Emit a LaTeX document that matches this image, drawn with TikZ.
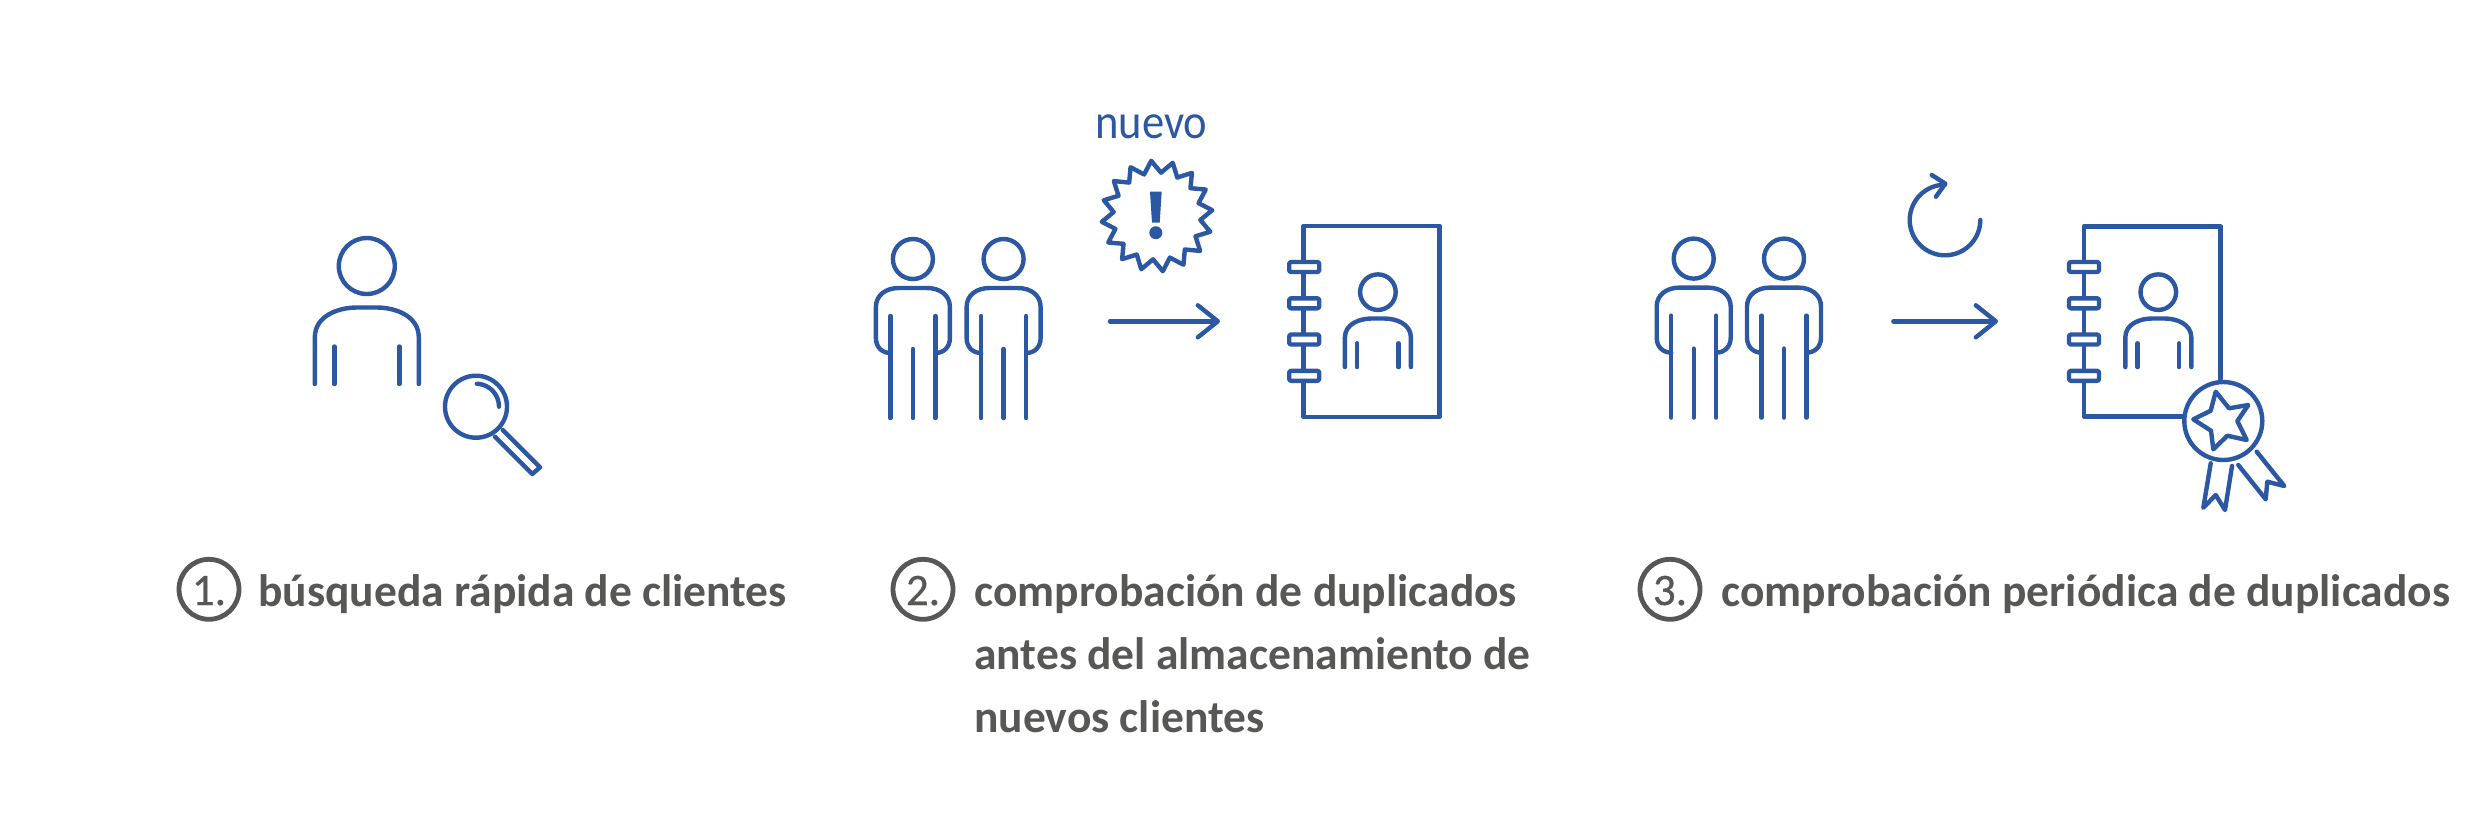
\documentclass[tikz,border=0pt]{standalone}
\usepackage{fontspec}
\usetikzlibrary{arrows.meta}
\setmainfont{Carlito}
\newfontfamily\lblfont{Carlito}
\newfontfamily\numfont[FakeBold=0.6]{Carlito}
\newfontfamily\nuevofont[FakeStretch=0.91]{Carlito}
\definecolor{iconblue}{HTML}{2B57A3}
\definecolor{labelgrey}{HTML}{575756}
\tikzset{
  icon/.style={draw=iconblue,line width=2.2pt,line cap=round,line join=round},
  flow/.style={icon,-{Straight Barb[length=10pt,width=16pt,round]}},
  numring/.style={draw=labelgrey,line width=2.4pt},
  numtext/.style={text=labelgrey,font=\numfont\fontsize{22.5}{22.5}\selectfont,inner sep=0pt,anchor=base},
  lbl/.style={text=labelgrey,font=\lblfont\bfseries\fontsize{22.75}{31.5}\selectfont,inner sep=0pt,anchor=base west,align=left},
  standing/.pic={
    \draw[icon] (0,-29) circle[radius=20];
    \draw[icon] (-22.5,65) .. controls (-31,65) and (-37,59) .. (-37,50) -- (-37,19)
      .. controls (-37,7) and (-27,0) .. (-14,0) -- (14,0)
      .. controls (27,0) and (37,7) .. (37,19) -- (37,50)
      .. controls (37,59) and (31,65) .. (22.5,65);
    \draw[icon] (-22.5,28) -- (-22.5,130);
    \draw[icon] (22.5,28) -- (22.5,130);
    \draw[icon] (0,61) -- (0,130);
  },
  bust/.pic={
    \draw[icon] (0,-41.5) circle[radius=28];
    \draw[icon] (-52,76.5) -- (-52,30) .. controls (-52,8) and (-28,0) .. (-10,0) -- (10,0)
      .. controls (28,0) and (52,8) .. (52,30) -- (52,76.5);
    \draw[icon] (-32.5,39) -- (-32.5,76.5);
    \draw[icon] (32.5,39) -- (32.5,76.5);
  },
  rings/.pic={
    \foreach \ry in {267,303.3,339.5,375.8}
      \draw[icon,fill=white,rounded corners=1pt] (-15,\ry-5) rectangle (15,\ry+5);
  }
}
\begin{document}
\begin{tikzpicture}[x=0.5pt,y=-0.5pt]
\useasboundingbox[fill=white] (0,0) rectangle (2480,827);

% --- group 1
\pic at (366.8,307.5) {bust};
\draw[icon] (476,406.7) circle[radius=31];
\draw[icon] plot[domain=-88:0,samples=12,variable=\t] ({476+23*cos(\t)},{406.7+23*sin(\t)});
\draw[icon] (502.7,430) -- (540,467.3) -- (532.3,474) -- (495,436.7);

% --- group 2
\pic at (912.9,288) {standing};
\pic at (1003.6,288) {standing};
\coordinate (a2s) at (1110,321.3);
\coordinate (a2e) at (1220,321.3);
\draw[flow] (a2s) -- (a2e);
\draw[icon] plot[samples at={0,...,31},variable=\k] ({1157+(49.5+6*cos(180*\k))*cos(96-11.25*\k)},{216-(49.5+6*cos(180*\k))*sin(96-11.25*\k)}) -- cycle;
\fill[iconblue] (1150,191.7) -- (1161.7,191.7) -- (1159.7,222.7) -- (1152,222.7) -- cycle;
\fill[iconblue] (1155.8,232.7) circle[radius=6.5];
\node[text=iconblue,font=\nuevofont\fontsize{24.5}{24.5}\selectfont,inner sep=0pt,anchor=base west] (nuevo) at (1095,138.3) {nuevo};
\draw[icon] (1303.5,225.7) rectangle (1439.6,416.7);
\pic at (1304.2,0) {rings};
\pic[xscale=.635,yscale=.635] at (1377.9,318.5) {bust};

% --- group 3
\pic at (1693.7,287.6) {standing};
\pic at (1784,287.6) {standing};
\coordinate (a3s) at (1893.4,321.3);
\coordinate (a3e) at (1998,321.3);
\draw[flow] (a3s) -- (a3e);
\draw[icon] plot[domain=0:270,samples=50,variable=\t] ({1945+35.3*cos(\t)},{220+35.3*sin(\t)});
\draw[icon] (1931.7,175) -- (1945.3,183.6) -- (1935.9,196.7);
\draw[icon] (2220.3,379) -- (2220.3,226.3) -- (2083.8,226.3) -- (2083.8,416.5) -- (2183,416.5);
\pic at (2084,0) {rings};
\pic[xscale=.635,yscale=.635] at (2158.3,318.5) {bust};
\draw[icon] (2223.3,421) circle[radius=39];
\draw[icon] (2215.7,391.7) -- (2229,408.3) -- (2248.3,405) -- (2237.3,421) -- (2246.7,440) -- (2227.3,435.7) -- (2213.3,449.3) -- (2211,430.7) -- (2193.3,419.3) -- (2210.7,410.7) -- cycle;
\draw[icon] (2210.7,463.3) -- (2203.3,507.7) -- (2215.7,495) -- (2225,510) -- (2232,466);
\draw[icon] (2238.3,465) -- (2265.7,499.3) -- (2267.3,481.7) -- (2284.3,486) -- (2256.7,451.7);

% --- labels
\draw[numring] (209,589.3) circle[radius=30];
\node[numtext] (n1) at (209,605) {1.};
\node[lbl] (l1) at (258,606) {búsqueda rápida de clientes};
\draw[numring] (923,589.3) circle[radius=30];
\node[numtext] (n2) at (923,605) {2.};
\node[lbl] (l2) at (974,732) {comprobación de duplicados\\antes del almacenamiento de\\nuevos clientes};
\draw[numring] (1670,589.3) circle[radius=30];
\node[numtext] (n3) at (1670,605) {3.};
\node[lbl] (l3) at (1721,606) {comprobación periódica de duplicados};
\end{tikzpicture}
\end{document}
